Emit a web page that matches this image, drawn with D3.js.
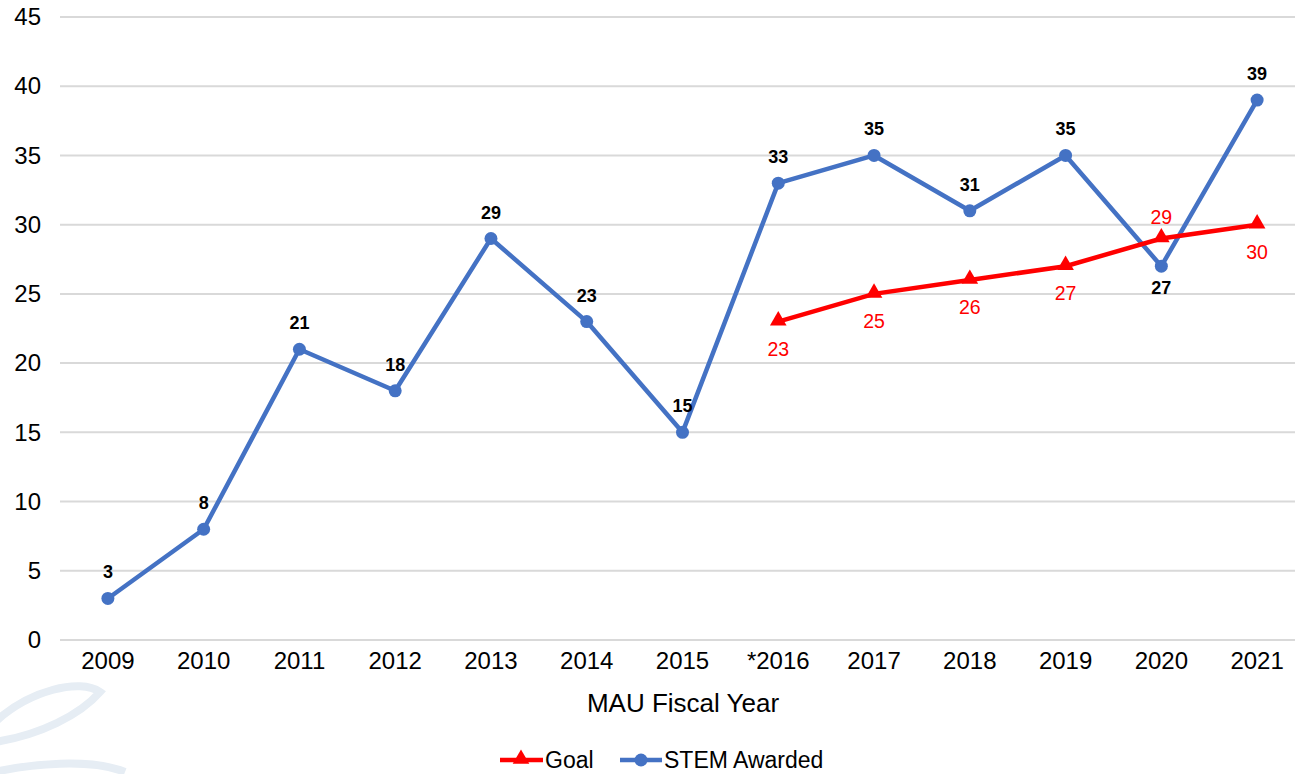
<!DOCTYPE html>
<html>
<head>
<meta charset="utf-8">
<script src="https://cdn.jsdelivr.net/npm/d3@7"></script>
<style>
  body { margin: 0; background: #fff; }
  svg { display: block; font-family: "Liberation Sans", Arial, sans-serif; }
</style>
</head>
<body>
<div id="viz"></div>
<script>
// data
const years = ['2009', '2010', '2011', '2012', '2013', '2014', '2015', '*2016', '2017', '2018', '2019', '2020', '2021'];
const stemAwarded = [3, 8, 21, 18, 29, 23, 15, 33, 35, 31, 35, 27, 39];
const goalYears = ['*2016', '2017', '2018', '2019', '2020', '2021'];
const goalValues = [23, 25, 26, 27, 29, 30];
const yTicks = [0, 5, 10, 15, 20, 25, 30, 35, 40, 45];

const width = 1295, height = 774;
const blue = '#4472c4', red = '#ff0000';
const font = '"Liberation Sans", Arial, sans-serif';

const svg = d3.select('#viz').append('svg')
  .attr('width', width)
  .attr('height', height);

// faint watermark leaves, bottom left
const wm = svg.append('g').attr('fill', 'none').attr('stroke', '#e6edf4').attr('stroke-width', 8);
wm.append('path').attr('d', 'M -5 722 C 30 690, 80 678, 100 692 C 80 715, 40 735, -5 742');
wm.append('path').attr('d', 'M -5 772 C 30 764, 90 758, 125 772');

const x = d3.scaleBand().domain(years).range([60, 1305]);
const y = d3.scaleLinear().domain([0, 45]).range([640, 17]);
const cx = d => x(d) + x.bandwidth() / 2;

// gridlines
svg.append('g')
  .selectAll('line')
  .data(yTicks)
  .join('line')
  .attr('x1', 60).attr('x2', width)
  .attr('y1', d => y(d)).attr('y2', d => y(d))
  .attr('stroke', '#d9d9d9').attr('stroke-width', 2);

// y axis labels
const yAxis = svg.append('g')
  .attr('transform', 'translate(41,0)')
  .call(d3.axisLeft(y).tickValues(yTicks).tickSize(0).tickPadding(0));
yAxis.select('.domain').remove();
yAxis.selectAll('text')
  .attr('font-size', 24).attr('fill', '#000')
  .attr('font-family', font);

// x axis labels
const xAxis = svg.append('g')
  .attr('transform', 'translate(0,652)')
  .call(d3.axisBottom(x).tickSize(0).tickPadding(0));
xAxis.select('.domain').remove();
xAxis.selectAll('text')
  .attr('font-size', 24).attr('fill', '#000')
  .attr('font-family', font);

svg.append('text')
  .attr('x', 683).attr('y', 712)
  .attr('text-anchor', 'middle')
  .attr('font-size', 26)
  .text('MAU Fiscal Year');

// STEM awarded line
const line = d3.line().x(d => cx(d[0])).y(d => y(d[1]));
const stemPts = years.map((yr, i) => [yr, stemAwarded[i]]);
const goalPts = goalYears.map((yr, i) => [yr, goalValues[i]]);

svg.append('path')
  .datum(stemPts)
  .attr('d', line)
  .attr('fill', 'none')
  .attr('stroke', blue)
  .attr('stroke-width', 4.5)
  .attr('stroke-linejoin', 'round');

svg.append('g')
  .selectAll('circle')
  .data(stemPts)
  .join('circle')
  .attr('cx', d => cx(d[0])).attr('cy', d => y(d[1]))
  .attr('r', 6.5)
  .attr('fill', blue);

// goal line
svg.append('path')
  .datum(goalPts)
  .attr('d', line)
  .attr('fill', 'none')
  .attr('stroke', red)
  .attr('stroke-width', 4.5);

const tri = d3.symbol().type(d3.symbolTriangle).size(120);
svg.append('g')
  .selectAll('path')
  .data(goalPts)
  .join('path')
  .attr('d', tri)
  .attr('transform', d => `translate(${cx(d[0])},${y(d[1]) - 1})`)
  .attr('fill', red);

// STEM labels: above except 2020 which is below
svg.append('g')
  .selectAll('text')
  .data(stemPts)
  .join('text')
  .attr('x', d => cx(d[0]))
  .attr('y', d => d[0] === '2020' ? y(d[1]) + 28 : y(d[1]) - 20)
  .attr('text-anchor', 'middle')
  .attr('font-size', 18)
  .attr('font-weight', 'bold')
  .text(d => d[1]);

// Goal labels: below except 2020 which is above
svg.append('g')
  .selectAll('text')
  .data(goalPts)
  .join('text')
  .attr('x', d => cx(d[0]))
  .attr('y', d => d[0] === '2020' ? y(d[1]) - 15 : y(d[1]) + 34)
  .attr('text-anchor', 'middle')
  .attr('font-size', 19.5)
  .attr('fill', red)
  .text(d => d[1]);

// legend
const legend = svg.append('g').attr('transform', 'translate(0,760)');
legend.append('line').attr('x1', 500).attr('x2', 543).attr('y1', 0).attr('y2', 0)
  .attr('stroke', red).attr('stroke-width', 4.5);
legend.append('path').attr('d', tri).attr('transform', 'translate(521,-1)').attr('fill', red);
legend.append('text').attr('x', 545).attr('y', 8).attr('font-size', 23).text('Goal');
legend.append('line').attr('x1', 620).attr('x2', 662).attr('y1', 0).attr('y2', 0)
  .attr('stroke', blue).attr('stroke-width', 4.5);
legend.append('circle').attr('cx', 641).attr('cy', 0).attr('r', 6.5).attr('fill', blue);
legend.append('text').attr('x', 664).attr('y', 8).attr('font-size', 23).text('STEM Awarded');
</script>
</body>
</html>
